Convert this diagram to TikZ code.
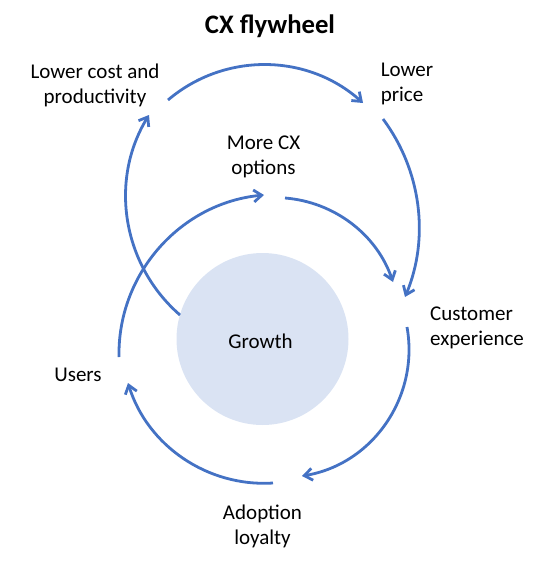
\documentclass[tikz,border=0pt]{standalone}
\usepackage{fontspec}
\setmainfont{Carlito}
\usetikzlibrary{arrows.meta}
\definecolor{flow}{HTML}{4472C4}
\definecolor{corefill}{HTML}{DAE3F3}
\begin{document}
\begin{tikzpicture}[x={(1pt,0)}, y={(0,-1pt)},
  lbl/.style={font=\fontsize{21}{25}\selectfont, inner sep=0pt, text=black},
  flowarrow/.style={draw=flow, line width=2.8pt, -{Straight Barb[length=8pt,width=12pt]}}]
\useasboundingbox (0,0) rectangle (540,573);
% core circle
\node[circle, fill=corefill, minimum size=172pt, inner sep=0pt] (core) at (262.5,339) {};
\node[lbl, anchor=base] (growth) at (260.5,348.3) {Growth};
% labels (base anchor = baseline of the last line)
\node[lbl, font=\bfseries\fontsize{26.7}{32}\selectfont, anchor=base] (title) at (270,33.3) {CX flywheel};
\node[lbl, align=center, anchor=base] (lcost) at (95,103.3) {Lower cost and\\productivity};
\node[lbl, align=left, anchor=base west] (lprice) at (380.6,101.7) {Lower\\price};
\node[lbl, align=center, anchor=base] (morecx) at (263.5,174.3) {More CX\\options};
\node[lbl, align=left, anchor=base west] (cust) at (430,345) {Customer\\experience};
\node[lbl, anchor=base] (users) at (78,381.7) {Users};
\node[lbl, align=center, anchor=base] (adopt) at (262.5,544.5) {Adoption\\loyalty};
% arc end points
\coordinate (a1) at (168,100); \coordinate (a2) at (363,103);
\coordinate (b1) at (180,315); \coordinate (b2) at (149,115);
\coordinate (c1) at (383,119); \coordinate (c2) at (405,297);
\coordinate (d1) at (119,357); \coordinate (d2) at (264,195);
\coordinate (e1) at (285,198); \coordinate (e2) at (393,282);
\coordinate (f1) at (407,327); \coordinate (f2) at (302,476);
\coordinate (g1) at (273,483); \coordinate (g2) at (128,383);
% outer loop
\draw[flowarrow] (a1) .. controls +(56.7,-48.2) and +(-55.1,-49.6) .. (a2);
\draw[flowarrow] (b1) .. controls +(-57.8,-50.1) and +(-40,65.2) .. (b2);
\draw[flowarrow] (c1) .. controls +(38.3,51.3) and +(24.7,-59.0) .. (c2);
% inner loop
\draw[flowarrow] (d1) .. controls +(-1.6,-83.6) and +(-83.1,7.9) .. (d2);
\draw[flowarrow] (e1) .. controls +(49.7,4.0) and +(-16.1,-47.2) .. (e2);
\draw[flowarrow] (f1) .. controls +(12.5,70.2) and +(70.3,-11.7) .. (f2);
\draw[flowarrow] (g1) .. controls +(-65.5,4.2) and +(19.4,62.6) .. (g2);
\end{tikzpicture}
\end{document}
